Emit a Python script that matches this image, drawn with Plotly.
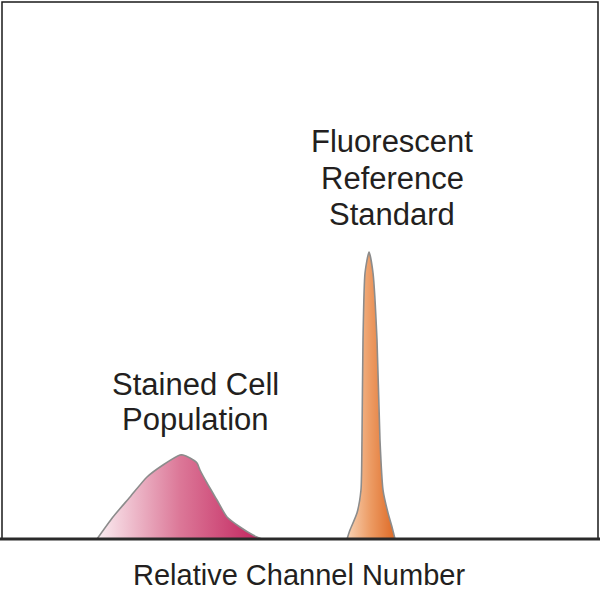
import plotly.graph_objects as go

# Stained cell population histogram (relative channel 0-100, relative count 0-100)
cell_channel = [15.94, 18.62, 21.48, 24.33, 27.01, 29.87, 30.37, 31.54, 32.72, 33.22,
                34.40, 36.07, 37.75, 39.93, 42.11, 43.62]
cell_count = [0.0, 4.10, 7.82, 11.55, 13.78, 15.64, 15.64, 15.08, 14.15, 12.85,
              10.43, 7.26, 4.10, 2.23, 0.74, 0.0]

# Fluorescent reference standard peak
std_channel = [57.89, 58.39, 59.56, 60.23, 60.40, 60.57, 60.91, 61.58, 62.25, 62.92,
               63.42, 63.93, 64.77, 65.44, 65.94]
std_count = [0.0, 1.68, 4.84, 9.12, 18.44, 37.06, 49.53, 53.45, 49.53, 37.06,
             18.44, 9.12, 4.84, 2.23, 0.0]

label_cells = ["Stained Cell", "Population"]
label_std = ["Fluorescent", "Reference", "Standard"]
x_title = "Relative Channel Number"

W, H = 600, 600
L, R, T, B = 2, 2, 2, 61
plot_h = H - T - B

def py(p):
    return (H - B - p) / plot_h

def px(p):
    return (p - L) / (W - L - R)

FONT = "Liberation Sans"
TXT = "#231f20"

fig = go.Figure()
fig.add_trace(go.Scatter(
    x=cell_channel, y=cell_count, mode="lines", fill="tozeroy",
    line=dict(color="#8c8c8c", width=1.6, shape="spline", smoothing=0.6),
    fillgradient=dict(type="horizontal",
                      colorscale=[[0, "#fbeef2"], [0.5, "#dc7898"], [1, "#c2245e"]]),
    hoverinfo="skip", showlegend=False))
fig.add_trace(go.Scatter(
    x=std_channel, y=std_count, mode="lines", fill="tozeroy",
    line=dict(color="#8c8c8c", width=1.6, shape="spline", smoothing=0.6),
    fillgradient=dict(type="horizontal",
                      colorscale=[[0, "#f8d2b4"], [0.5, "#ec9a62"], [1, "#de6a26"]]),
    hoverinfo="skip", showlegend=False))

anns = []
for txt, yy in zip(label_std, [141.5, 178, 214.5]):
    anns.append(dict(text=txt, x=px(392), y=py(yy), font=dict(family=FONT, size=31, color=TXT)))
for txt, yy in zip(label_cells, [384, 419]):
    anns.append(dict(text=txt, x=px(196), y=py(yy), font=dict(family=FONT, size=31, color=TXT)))
anns.append(dict(text=x_title, x=px(299), y=py(575), font=dict(family=FONT, size=29, color=TXT)))
for a in anns:
    a.update(xref="paper", yref="paper", xanchor="center", yanchor="middle",
             showarrow=False)

fig.update_layout(
    width=W, height=H, margin=dict(l=L, r=R, t=T, b=B),
    paper_bgcolor="white", plot_bgcolor="white",
    xaxis=dict(range=[0, 100], visible=False, fixedrange=True),
    yaxis=dict(range=[0, 100], visible=False, fixedrange=True),
    annotations=anns,
    shapes=[
        dict(type="rect", xref="paper", yref="paper", x0=0, x1=1, y0=0, y1=1,
             line=dict(color="#1a1a1a", width=1.5), layer="above"),
        dict(type="line", xref="paper", yref="paper", x0=-0.005, x1=1.005, y0=0, y1=0,
             line=dict(color="#2a2a2a", width=3), layer="above"),
    ],
)
fig.write_html("out.html")
